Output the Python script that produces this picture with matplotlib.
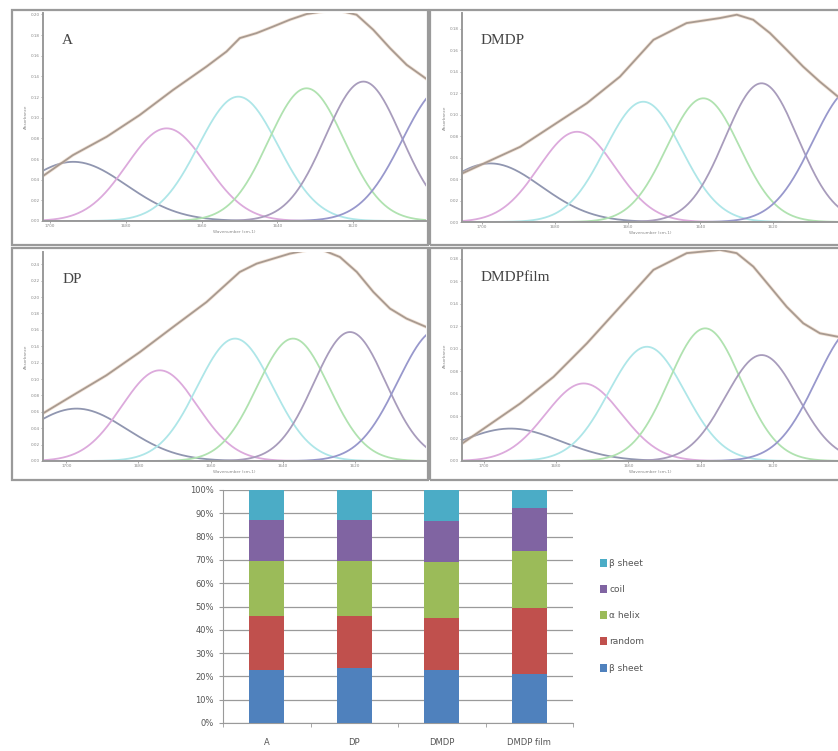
import numpy as np
import matplotlib.pyplot as plt
from matplotlib.patches import Patch, Rectangle

W, H = 838, 751

a_wn = [1702.6, 1693.9, 1685.0, 1676.3, 1667.5, 1658.7, 1653.4, 1649.9, 1645.5, 1641.1,
        1636.7, 1632.3, 1627.9, 1623.5, 1619.1, 1614.7, 1610.3, 1605.9, 1599.7]
a_abs = [0.0415, 0.0638, 0.0816, 0.1026, 0.1269, 0.1495, 0.1641, 0.1771, 0.1819, 0.1883,
         0.1949, 0.2004, 0.2029, 0.2036, 0.1997, 0.1851, 0.1674, 0.1512, 0.1350]

dmdp_wn = [1705.5, 1689.5, 1671.2, 1662.1, 1652.9, 1643.8, 1634.6, 1630.0, 1625.5, 1620.9,
           1616.3, 1611.8, 1607.2, 1602.2]
dmdp_abs = [0.0452, 0.0701, 0.1107, 0.1355, 0.1698, 0.1854, 0.1901, 0.1932, 0.1885, 0.1761,
            0.1605, 0.1449, 0.1308, 0.1168]

dp_wn = [1707.4, 1698.2, 1688.9, 1679.6, 1670.4, 1661.1, 1651.9, 1647.2, 1642.6, 1638.0,
         1633.3, 1628.7, 1624.1, 1619.4, 1614.8, 1610.2, 1605.6, 1599.1]
dp_abs = [0.0557, 0.0801, 0.1045, 0.1329, 0.1634, 0.1939, 0.2305, 0.2407, 0.2468, 0.2529,
          0.2570, 0.2570, 0.2488, 0.2305, 0.2061, 0.1859, 0.1737, 0.1615]

film_wn = [1706.0, 1689.9, 1680.7, 1671.5, 1662.3, 1653.1, 1643.9, 1634.7, 1630.1, 1625.5,
           1620.9, 1616.3, 1611.7, 1607.1, 1602.1]
film_abs = [0.0155, 0.0513, 0.0750, 0.1048, 0.1375, 0.1703, 0.1852, 0.1881, 0.1852, 0.1732,
            0.1554, 0.1375, 0.1227, 0.1138, 0.1107]

# ---- fitted bands: centre (cm-1), height, width (cm-1)
a_centre = [1693.8, 1669.2, 1650.3, 1632.3, 1617.3, 1596.0]
a_height = [0.0573, 0.0897, 0.1204, 0.1285, 0.1350, 0.1300]
dmdp_centre = [1697.7, 1673.9, 1655.7, 1639.2, 1623.2, 1598.0]
dmdp_height = [0.0546, 0.0841, 0.1121, 0.1153, 0.1293, 0.1250]
dp_centre = [1697.2, 1674.1, 1653.2, 1637.1, 1621.3, 1597.0]
dp_height = [0.0639, 0.1106, 0.1493, 0.1493, 0.1573, 0.1600]
film_centre = [1692.6, 1672.4, 1654.9, 1638.8, 1623.2, 1597.0]
film_height = [0.0289, 0.0691, 0.1018, 0.1182, 0.0944, 0.1200]
band_width = [14, 10.5, 10.5, 10, 10, 11]

# ---- secondary structure fractions (%)
samples = ["A", "DP", "DMDP", "DMDP film"]
beta_sheet = [22.9, 23.6, 22.6, 21.2]
random_coil = [23.1, 22.4, 22.6, 28.0]
alpha_helix = [23.4, 23.4, 23.7, 24.8]
coil = [17.7, 17.6, 17.9, 18.4]
beta_sheet_top = [12.9, 13.0, 13.2, 7.6]

band_colors = ["#9096b0", "#dcaadc", "#aee6e8", "#b0e2b0", "#a89cbc", "#9898cc"]
total_color = "#a89a90"


def px_axes(fig, left, top, right, bottom):
    return fig.add_axes([left / W, 1 - bottom / H, (right - left) / W, (bottom - top) / H])


def spectrum_panel(fig, box, frame, wn, ab, centres, heights, xlim, ylim, yticks, label):
    fig.add_artist(Rectangle((frame[0] / W, 1 - frame[3] / H),
                             (frame[2] - frame[0]) / W, (frame[3] - frame[1]) / H,
                             transform=fig.transFigure, fill=False, edgecolor="#9a9a9a", lw=1.6))
    ax = px_axes(fig, *box)
    x = np.linspace(xlim[1], xlim[0], 400)
    for c, h, w, col in zip(centres, heights, band_width, band_colors):
        ax.plot(x, h * np.exp(-(x - c) ** 2 / (2 * w ** 2)), color=col, lw=1.3)
    ax.plot(wn, ab, color="#e6c8b0", lw=2.4, alpha=0.5, solid_joinstyle="round")
    ax.plot(wn, ab, color=total_color, lw=1.3, solid_joinstyle="round")
    ax.set_xlim(*xlim)
    ax.set_ylim(*ylim)
    ax.set_xticks([1700, 1680, 1660, 1640, 1620])
    ax.set_yticks(yticks)
    ax.set_yticklabels([f"{v:.2f}" for v in yticks])
    ax.tick_params(labelsize=3, colors="#888888", length=1.5, width=0.5, pad=1)
    for s in ["top", "right"]:
        ax.spines[s].set_visible(False)
    for s in ["left", "bottom"]:
        ax.spines[s].set_color("#9a9a9a")
        ax.spines[s].set_linewidth(1.4)
    ax.set_xlabel("Wavenumber (cm-1)", fontsize=3, color="#888888", labelpad=1)
    ax.set_ylabel("Absorbance", fontsize=3, color="#888888", labelpad=2)
    ax.text(0.05, 0.87, label, transform=ax.transAxes, fontsize=11,
            family="Liberation Serif", color="#444444", va="center")
    return ax


fig = plt.figure(figsize=(W / 100, H / 100), dpi=100)

spectrum_panel(fig, (43, 13, 426, 221), (12, 10, 428, 245), a_wn, a_abs, a_centre, a_height,
               (1701.8, 1600.8), (0, 0.2014), np.arange(0, 0.201, 0.02), "A")
spectrum_panel(fig, (462, 13, 838, 222), (430, 10, 842, 245), dmdp_wn, dmdp_abs, dmdp_centre,
               dmdp_height, (1705.5, 1602.2), (0, 0.1948), np.arange(0, 0.181, 0.02), "DMDP")
spectrum_panel(fig, (43, 252, 426, 461), (12, 248, 428, 480), dp_wn, dp_abs, dp_centre,
               dp_height, (1706.5, 1600.2), (0, 0.2549), np.arange(0, 0.241, 0.02), "DP")
spectrum_panel(fig, (462, 250, 838, 461), (430, 248, 842, 480), film_wn, film_abs, film_centre,
               film_height, (1706.0, 1602.1), (0, 0.188), np.arange(0, 0.181, 0.02), "DMDPfilm")

# ---- stacked bar chart
ax = px_axes(fig, 223, 490, 573, 723)
pos = np.arange(len(samples))
series = [
    (beta_sheet, "#4f81bd", "β sheet"),
    (random_coil, "#c0504d", "random"),
    (alpha_helix, "#9bbb59", "α helix"),
    (coil, "#8064a2", "coil"),
    (beta_sheet_top, "#4bacc6", "β sheet"),
]
bottom = np.zeros(len(samples))
handles = []
for vals, col, lab in series:
    ax.bar(pos, vals, width=0.4, bottom=bottom, color=col, zorder=3)
    bottom += np.array(vals)
    handles.append(Patch(facecolor=col, label=lab))

ax.set_xlim(-0.5, 3.5)
ax.set_ylim(0, 100)
ax.set_yticks(range(0, 101, 10))
ax.set_yticklabels([f"{v}%" for v in range(0, 101, 10)])
ax.set_xticks(pos)
ax.set_xticklabels(samples)
ax.set_xticks(np.arange(-0.5, 3.6, 1), minor=True)
ax.yaxis.grid(True, color="#9a9a9a", lw=0.9, zorder=0)
ax.tick_params(axis="y", labelsize=6, colors="#555555", length=3, color="#9a9a9a")
ax.tick_params(axis="x", which="major", labelsize=6, colors="#555555", length=0, pad=11)
ax.tick_params(axis="x", which="minor", length=3, color="#9a9a9a")
for s in ["top", "right"]:
    ax.spines[s].set_visible(False)
for s in ["left", "bottom"]:
    ax.spines[s].set_color("#9a9a9a")

fig.legend(handles=handles[::-1], loc="upper left", bbox_to_anchor=(595 / W, 1 - 554 / H),
           frameon=False, fontsize=6.5, labelspacing=1.9, handlelength=0.8, handleheight=1.0,
           handletextpad=0.3, borderpad=0, labelcolor="#555555")

fig.savefig("out.png", dpi=100)
